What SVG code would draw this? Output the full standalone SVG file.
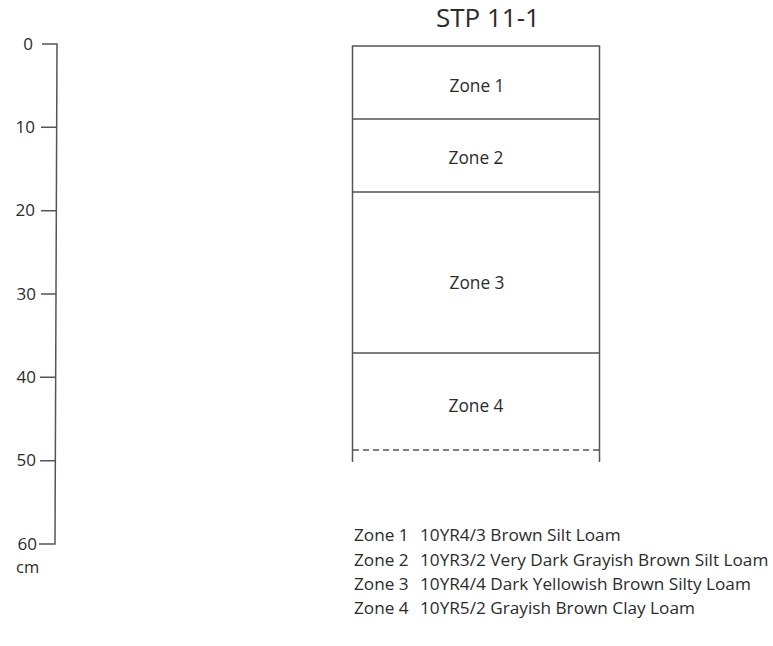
<svg xmlns="http://www.w3.org/2000/svg" width="773" height="646" viewBox="0 0 773 646">
<style>
text{font-family:"Open Sans","Liberation Sans",sans-serif;fill:#2b2b2b}
.ln{stroke:#555;stroke-width:1.5;fill:none}
.lbl{font-size:17.3px;text-anchor:middle}
.tk{font-size:17px;text-anchor:end}
.lg{font-size:17.2px}
</style>
<rect width="773" height="646" fill="#fff"/>
<g id="scale">
<path class="ln" d="M42,44H57L55,544H39"/>
<path class="ln" d="M41,127.3H56.6M41,210.7H56.3M41,294H56M40,377.3H55.7M40,460.7H55.3"/>
<text class="tk" x="33" y="50">0</text>
<text class="tk" x="35" y="133">10</text>
<text class="tk" x="35" y="216">20</text>
<text class="tk" x="36" y="300">30</text>
<text class="tk" x="36" y="383">40</text>
<text class="tk" x="36" y="466">50</text>
<text class="tk" x="37" y="550">60</text>
<text x="16" y="573" style="font-size:16.5px">cm</text>
</g>
<text x="488" y="27" style="font-size:26px;text-anchor:middle">STP 11-1</text>
<g id="profile">
<path class="ln" d="M352.5,462V46H599.5V462"/>
<path d="M353,450H599" stroke="#555" stroke-width="1.3" stroke-dasharray="6,4"/>
</g>
<g id="zone1"><path class="ln" d="M352.5,119H599.5"/><text class="lbl" x="477" y="92">Zone 1</text></g>
<g id="zone2"><path class="ln" d="M352.5,192H599.5"/><text class="lbl" x="476" y="164">Zone 2</text></g>
<g id="zone3"><path class="ln" d="M352.5,353H599.5"/><text class="lbl" x="477" y="289">Zone 3</text></g>
<g id="zone4"><text class="lbl" x="476" y="412">Zone 4</text></g>
<g id="legend">
<text class="lg" y="541"><tspan x="354">Zone 1</tspan><tspan x="420">10YR4/3 Brown Silt Loam</tspan></text>
<text class="lg" y="566"><tspan x="354">Zone 2</tspan><tspan x="420">10YR3/2 Very Dark Grayish Brown Silt Loam</tspan></text>
<text class="lg" y="590"><tspan x="354">Zone 3</tspan><tspan x="420">10YR4/4 Dark Yellowish Brown Silty Loam</tspan></text>
<text class="lg" y="614"><tspan x="354">Zone 4</tspan><tspan x="420">10YR5/2 Grayish Brown Clay Loam</tspan></text>
</g>
</svg>
